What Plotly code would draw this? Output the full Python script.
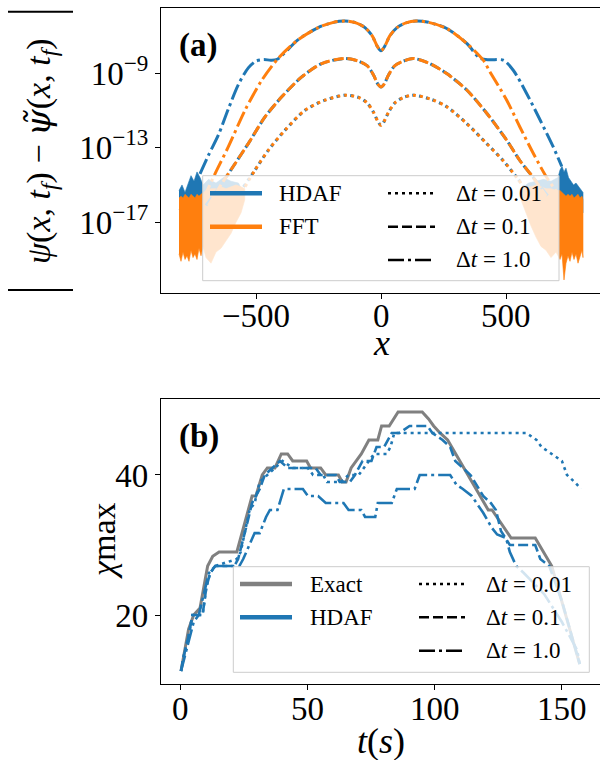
import numpy as np
import plotly.graph_objects as go

# ---------------- Panel (a) data: x and log10|error| ----------------
fft_dt1_x = [-712, -664, -611, -544, -477, -411, -331, -251, -190, -144, -100, -64, -35, -15, 0,
             15, 35, 64, 100, 140, 190, 263, 343, 409, 436, 503, 556, 609, 663, 716]
fft_dt1_log = [-15.8, -14.4, -12.96, -10.99, -9.38, -8.2, -7.2, -6.55, -6.27, -6.2, -6.3, -6.55, -7.0, -7.55, -7.8,
               -7.55, -7.0, -6.55, -6.3, -6.2, -6.27, -6.6, -7.4, -8.3, -8.93, -10.45, -11.9, -13.3, -14.6, -15.6]

hdaf_dt1_x = [-724, -690, -650, -610, -570, -530, -500, -470, -440, -415, -331, -251, -190, -144, -100, -64, -35,
              -15, 0, 15, 35, 64, 100, 140, 190, 263, 343, 396, 436, 489, 529, 583, 636, 689, 723]
hdaf_dt1_log = [-14.4, -13.4, -12.3, -10.9, -9.6, -8.7, -8.35, -8.27, -8.3, -8.25, -7.2, -6.55, -6.27, -6.2, -6.3,
                -6.55, -7.0, -7.55, -7.8, -7.55, -7.0, -6.55, -6.3, -6.2, -6.27, -6.6, -7.4, -8.2, -8.28, -8.3,
                -8.84, -10.1, -11.5, -12.96, -14.0]

fft_dt01_x = [-690, -637, -584, -531, -464, -397, -317, -237, -144, -90, -55, -30, -12, 0, 12, 30, 55, 90, 129,
              190, 263, 343, 423, 503, 556, 609, 660]
fft_dt01_log = [-16.1, -14.93, -13.86, -12.78, -11.35, -10.27, -9.2, -8.48, -8.21, -8.35, -8.6, -9.1, -9.6, -9.74,
                -9.6, -9.1, -8.6, -8.35, -8.21, -8.45, -9.02, -9.9, -11.15, -12.6, -13.7, -14.6, -15.6]
hdaf_dt01_x = [-700, -637, -584, -531, -464, -397, -317, -237, -144, -90, -55, -30, -12, 0, 12, 30, 55, 90, 129,
               190, 263, 343, 423, 503, 556, 609, 668]
hdaf_dt01_log = fft_dt01_log

fft_dt001_x = [-544, -504, -451, -384, -304, -224, -144, -90, -55, -30, -12, 0, 12, 30, 55, 90, 129, 200, 263,
               343, 423, 489, 543, 590]
fft_dt001_log = [-15.1, -14.2, -13.14, -12.06, -10.99, -10.45, -10.18, -10.3, -10.6, -11.1, -11.6, -11.8, -11.6,
                 -11.1, -10.6, -10.3, -10.18, -10.4, -10.8, -11.7, -12.78, -13.7, -14.6, -15.5]
hdaf_dt001_x = [-550, -504, -451, -384, -304, -224, -144, -90, -55, -30, -12, 0, 12, 30, 55, 90, 129, 200, 263,
                343, 423, 489, 543, 596]
hdaf_dt001_log = fft_dt001_log

# noise floors (upper / lower envelopes, log10)
fft_noise_l_x = [-808, -800, -792, -784, -776, -768, -760, -752, -744, -736, -728, -720, -712, -700, -680, -660,
                 -640, -620, -600, -580, -560, -545]
fft_noise_l_hi = [-15.7, -15.6, -15.7, -15.5, -15.6, -15.7, -15.5, -15.6, -15.7, -15.5, -15.6, -15.5, -15.4, -15.3,
                  -15.2, -15.2, -15.1, -15.2, -15.1, -15.0, -15.1, -15.2]
fft_noise_l_lo = [-18.7, -19.1, -18.6, -19.0, -18.8, -19.1, -18.5, -18.9, -18.7, -19.0, -18.4, -18.8, -18.3, -18.9,
                  -19.2, -18.6, -18.4, -18.0, -17.6, -17.0, -16.5, -15.8]
hdaf_noise_l_x = [-808, -796, -784, -772, -760, -748, -736, -724, -712, -690, -660, -630, -600, -570, -555]
hdaf_noise_l_hi = [-15.3, -15.0, -15.4, -14.9, -14.5, -14.8, -14.3, -14.6, -15.0, -14.7, -14.9, -14.6, -14.8, -14.9,
                   -15.3]
hdaf_noise_l_lo = [-16.3, -16.5, -16.2, -16.4, -16.3, -16.5, -16.2, -16.4, -16.3, -16.6, -16.5, -16.6, -16.4, -16.2,
                   -15.8]
fft_noise_r_x = [560, 580, 600, 620, 640, 660, 680, 700, 716, 724, 732, 740, 748, 756, 764, 772, 780, 788, 796, 804,
                 808]
fft_noise_r_hi = [-15.2, -15.1, -15.1, -15.0, -15.1, -15.2, -15.2, -15.3, -15.3, -15.4, -15.5, -15.6, -15.5, -15.6,
                  -15.5, -15.7, -15.6, -15.5, -15.7, -15.6, -15.8]
fft_noise_r_lo = [-15.8, -16.5, -17.2, -17.8, -18.3, -18.5, -18.9, -18.6, -19.0, -18.7, -20.1, -19.2, -18.8, -19.1,
                  -18.6, -19.0, -18.7, -19.2, -18.8, -18.5, -18.9]
hdaf_noise_r_x = [560, 590, 620, 650, 680, 708, 716, 724, 732, 740, 750, 760, 770, 780, 790, 800, 808]
hdaf_noise_r_hi = [-15.2, -14.9, -14.8, -14.7, -14.8, -14.6, -14.2, -14.0, -14.3, -14.1, -14.6, -14.8, -15.0, -14.9,
                   -15.1, -15.3, -15.4]
hdaf_noise_r_lo = [-15.8, -16.0, -16.1, -16.0, -16.2, -16.3, -16.4, -16.2, -16.5, -16.3, -16.6, -16.4, -16.5, -16.6,
                   -16.4, -16.6, -16.5]

a_xticks = [-500, 0, 500]
a_xticklabels = ["−500", "0", "500"]
a_yticks = [1e-9, 1e-13, 1e-17]
a_yticklabels = ["10<sup>−9</sup>", "10<sup>−13</sup>", "10<sup>−17</sup>"]

# ---------------- Panel (b) data: t and chi_max ----------------
exact_t = [0, 1, 3, 5, 7.5, 9, 10.5, 12.5, 15, 22, 28, 29.5, 32, 34, 37, 39.5, 42, 44, 49.5, 51, 55, 57, 62, 63.5,
           65, 67, 69, 71, 74, 77.5, 79, 82, 85.5, 95, 97.5, 99.5, 102, 105, 121, 122.5, 130, 139.5, 146, 157]
exact_chi = [12, 14, 18, 20, 21, 24, 27, 28.4, 29, 29, 37, 37, 40, 41, 41, 43, 43, 42, 42, 41, 41, 40, 40, 39, 39,
             41, 42, 43, 45, 45, 47, 47, 49, 49, 48, 47, 46, 45, 35, 35, 31, 31, 27, 13]

dt001_t = [0, 1, 3, 4.5, 8.5, 10, 11.5, 13.5, 22, 23.5, 27, 29, 31, 34, 37, 40, 44, 50, 52, 56, 57.5, 63, 66, 70,
           72, 74, 76, 81, 82.5, 84, 136, 140, 142, 146, 150, 151, 152, 155, 157.5]
dt001_chi = [12, 14, 17, 20, 20, 24, 26, 27, 28, 29, 35, 36, 39, 40, 41, 42, 41, 41, 40, 40, 39, 39, 40, 40, 41, 42,
             43, 43, 44, 46, 46, 45, 44, 43, 42, 41, 40, 39, 38]

dt01_t = [0, 1, 3, 4.5, 8.5, 10, 11.5, 13.5, 21, 22.5, 26, 28, 31, 33, 36, 39, 42, 53, 55, 61, 62.5, 66.5, 68.5,
          71.5, 75, 77, 80, 83, 86, 90, 97, 99, 103, 106, 108, 111, 114, 119, 122, 124, 126, 129.5, 139.5, 141.5,
          145, 150, 154, 157]
dt01_chi = [12, 14, 17, 20, 20, 24, 26, 27, 27, 28, 33, 36, 38, 40, 41, 42, 41, 41, 40, 40, 39, 39, 40, 42, 42, 44,
            44, 46, 46, 47, 47, 46, 45, 44, 42, 41, 40, 37, 36, 35, 32, 30, 30, 28, 27, 22, 17, 13]

dt1_t = [0, 1.5, 3, 5, 7, 9, 11, 13.5, 23, 24.5, 27, 29, 31, 33.5, 35, 38, 40.5, 48, 50, 54, 57, 64, 66, 71, 72.5,
         76.5, 77.5, 83, 85, 92, 94, 106, 108.5, 111, 114.5, 116.5, 119, 122.5, 124.5, 128, 129.5, 132, 135, 143,
         150, 156, 157]
dt1_chi = [12, 14, 16, 19, 20, 23, 26, 27, 27, 28, 30, 31.7, 31.7, 34, 35, 35, 38, 38, 37, 37, 36, 36, 35, 35, 34,
           34, 36, 36, 38, 38, 40, 40, 38.6, 38, 37, 36, 34.6, 32.4, 31.5, 31, 29, 27, 26, 23, 19, 15, 13]

b_xticks = [0, 50, 100, 150]
b_yticks = [20, 40]

# ---------------- styling ----------------
BLUE, ORANGE, GRAY = "#1f77b4", "#ff7f0e", "#808080"
DOT = "3px,4px"
DASH = "10px,4px"
DASHDOT = "16px,4px,3px,4px"
FONT = "Liberation Serif"

W, H = 600, 760
L = 161
PW = W - L


def pxx(xp):
    return (xp - L) / PW


def pyy(yp):
    return 1 - yp / H


fig = go.Figure()


def pw(v):
    return list(np.power(10.0, np.array(v, dtype=float)))


def band(x, hi, lo, color):
    xs = list(x) + list(x)[::-1]
    ys = pw(list(hi) + list(lo)[::-1])
    fig.add_trace(go.Scatter(x=xs, y=ys, fill="toself", fillcolor=color, mode="lines",
                             line=dict(width=0.6, color=color), xaxis="x", yaxis="y",
                             showlegend=False, hoverinfo="skip"))


band(hdaf_noise_l_x, hdaf_noise_l_hi, hdaf_noise_l_lo, BLUE)
band(hdaf_noise_r_x, hdaf_noise_r_hi, hdaf_noise_r_lo, BLUE)
band(fft_noise_l_x, fft_noise_l_hi, fft_noise_l_lo, ORANGE)
band(fft_noise_r_x, fft_noise_r_hi, fft_noise_r_lo, ORANGE)

for xs, ls, col, dsh in [
    (hdaf_dt1_x, hdaf_dt1_log, BLUE, DASHDOT),
    (hdaf_dt01_x, hdaf_dt01_log, BLUE, DASH),
    (hdaf_dt001_x, hdaf_dt001_log, BLUE, DOT),
    (fft_dt1_x, fft_dt1_log, ORANGE, DASHDOT),
    (fft_dt01_x, fft_dt01_log, ORANGE, DASH),
    (fft_dt001_x, fft_dt001_log, ORANGE, DOT),
]:
    fig.add_trace(go.Scatter(x=xs, y=pw(ls), mode="lines",
                             line=dict(color=col, width=3, dash=dsh, shape="spline", smoothing=0.8),
                             xaxis="x", yaxis="y", showlegend=False))

fig.add_trace(go.Scatter(x=exact_t, y=exact_chi, mode="lines", line=dict(color=GRAY, width=3),
                         xaxis="x2", yaxis="y2", showlegend=False))
for ts, cs, dsh in [(dt001_t, dt001_chi, DOT), (dt01_t, dt01_chi, DASH), (dt1_t, dt1_chi, DASHDOT)]:
    fig.add_trace(go.Scatter(x=ts, y=cs, mode="lines", line=dict(color=BLUE, width=2.6, dash=dsh),
                             xaxis="x2", yaxis="y2", showlegend=False))

axis_common = dict(showgrid=False, zeroline=False, showline=True, linecolor="black", linewidth=1.2,
                   ticks="outside", ticklen=5, tickwidth=1.2, tickcolor="black",
                   tickfont=dict(family=FONT, size=33, color="black"))

fig.update_layout(
    width=W, height=H, margin=dict(l=L, r=0, t=0, b=0),
    paper_bgcolor="white", plot_bgcolor="white", showlegend=False,
    xaxis=dict(domain=[0, 1], anchor="y", range=[-880, 876], tickvals=a_xticks, showticklabels=False,
               mirror=True, **axis_common),
    yaxis=dict(domain=[pyy(293), pyy(8)], anchor="x", type="log", range=[-20.8, -5.5],
               tickvals=a_yticks, ticktext=a_yticklabels, **axis_common),
    xaxis2=dict(domain=[0, 1], anchor="y2", range=[-7.87, 165], tickvals=b_xticks, showticklabels=False,
                mirror=True, **axis_common),
    yaxis2=dict(domain=[pyy(684), pyy(399)], anchor="x2", range=[10.15, 50.85], tickvals=b_yticks,
                **axis_common),
)

shapes = []
annotations = []

# x tick labels (placed as annotations to control their distance to the axis)
for v, lab in zip(a_xticks, a_xticklabels):
    annotations.append(dict(xref="x", yref="paper", x=v, y=pyy(316), text=lab, showarrow=False,
                            xanchor="center", yanchor="middle", font=dict(family=FONT, size=33, color="black")))
for v in b_xticks:
    annotations.append(dict(xref="x2", yref="paper", x=v, y=pyy(709), text=str(v), showarrow=False,
                            xanchor="center", yanchor="middle", font=dict(family=FONT, size=33, color="black")))


def legend_box(x0, x1, y0, y1):
    shapes.append(dict(type="rect", xref="paper", yref="paper", x0=pxx(x0), x1=pxx(x1), y0=pyy(y1), y1=pyy(y0),
                       fillcolor="rgba(255,255,255,0.8)", line=dict(color="#cccccc", width=1), layer="above"))


def handle(x0, x1, y, color, width, dash="solid"):
    shapes.append(dict(type="line", xref="paper", yref="paper", x0=pxx(x0), x1=pxx(x1), y0=pyy(y), y1=pyy(y),
                       line=dict(color=color, width=width, dash=dash), layer="above"))


def text(x, y, s, size, xanchor="left", angle=0):
    annotations.append(dict(xref="paper", yref="paper", x=pxx(x), y=pyy(y), text=s, showarrow=False,
                            xanchor=xanchor, yanchor="middle", textangle=angle,
                            font=dict(family=FONT, size=size, color="black")))


# legend (a)
legend_box(202.7, 559, 175.7, 280.7)
handle(210, 262, 193.3, BLUE, 4.5)
handle(210, 262, 226.7, ORANGE, 4.5)
text(277, 193.3, "HDAF", 23)
text(277, 226.7, "FFT", 23)
for yy, dsh, lab in [(193.3, DOT, "0.01"), (226.7, DASH, "0.1"), (260, DASHDOT, "1.0")]:
    handle(388, 435, yy, "black", 2.6, dsh)
    text(454, yy, "Δ<i>t</i> = " + lab, 23)

# legend (b)
legend_box(233.3, 589.3, 566.7, 672.3)
handle(240, 292, 584, GRAY, 4.5)
handle(240, 292, 617.3, BLUE, 4.5)
text(308, 584, "Exact", 23)
text(308, 617.3, "HDAF", 23)
for yy, dsh, lab in [(584, DOT, "0.01"), (617.3, DASH, "0.1"), (650.7, DASHDOT, "1.0")]:
    handle(419, 465, yy, "black", 2.6, dsh)
    text(484, yy, "Δ<i>t</i> = " + lab, 23)

# panel labels
text(177, 46, "<b>(a)</b>", 33)
text(177, 437, "<b>(b)</b>", 33)

# axis titles
text(381, 343, "<i>x</i>", 36, xanchor="center")
text(381, 741, "<i>t</i>(<i>s</i>)", 36, xanchor="center")
text(103, 541, "<i>χ</i>max", 34, xanchor="center", angle=-90)
text(40, 151, "<i>ψ</i>(<i>x</i>, <i>t<sub>f</sub></i>) − "
              "<span style=\"font-family:'DejaVu Serif'\"><i>ψ\u0303</i></span>(<i>x</i>, <i>t<sub>f</sub></i>)",
     34, xanchor="center", angle=-90)
# absolute value bars of the y-label
for yb in (11.7, 290):
    shapes.append(dict(type="line", xref="paper", yref="paper", x0=pxx(8), x1=pxx(73), y0=pyy(yb), y1=pyy(yb),
                       line=dict(color="black", width=2)))

fig.update_layout(shapes=shapes, annotations=annotations)
fig.write_html("out.html")
